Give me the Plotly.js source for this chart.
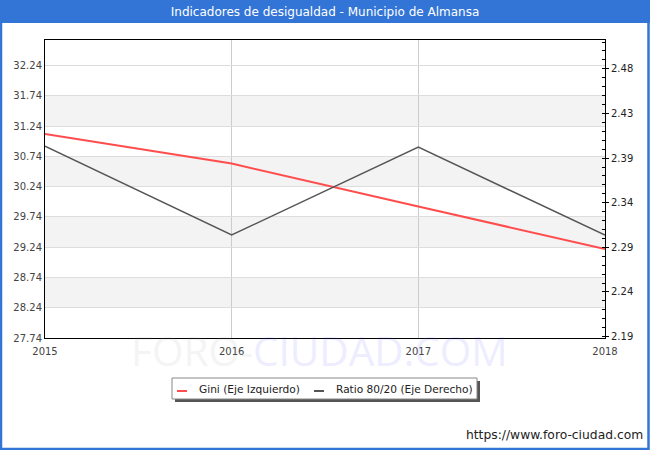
<!DOCTYPE html>
<html>
<head>
<meta charset="utf-8">
<script src="https://cdn.plot.ly/plotly-3.0.1.min.js"></script>
<style>html,body{margin:0;padding:0;background:#fff;}#chart{width:650px;height:450px;}</style>
</head>
<body>
<div id="chart"></div>
<script>
// ---- data ----
var years = [2015, 2016, 2017, 2018];
var giniValues = [31.11, 30.62, 29.91, 29.21];
var ratioValues = [2.398, 2.302, 2.397, 2.302];
var leftTickValues = [27.74, 28.24, 28.74, 29.24, 29.74, 30.24, 30.74, 31.24, 31.74, 32.24];
var rightTickLabels = ['2.19', '2.24', '2.29', '2.34', '2.39', '2.43', '2.48'];
var seriesNames = ['Gini (Eje Izquierdo)', 'Ratio 80/20 (Eje Derecho)'];
var seriesColors = ['#ff4d4d', '#555555'];
var chartTitle = 'Indicadores de desigualdad - Municipio de Almansa';
var footerText = 'https://www.foro-ciudad.com';

// ---- layout helpers (pixel -> paper) ----
var W = 650, H = 450, L = 45, R = 45, T = 40, B = 112;
var pw = W - L - R, ph = H - T - B;
function px(x) { return (x - L) / pw; }
function py(y) { return (H - B - y) / ph; }

var FONT = 'DejaVu Sans, Verdana, sans-serif';
var shapes = [];
var annotations = [];
// alternating bands between left ticks
for (var i = 1; i < leftTickValues.length - 1; i += 2) {
  shapes.push({type: 'rect', xref: 'paper', yref: 'y', x0: 0, x1: 1,
    y0: leftTickValues[i], y1: leftTickValues[i + 1],
    fillcolor: '#f3f3f3', line: {width: 0}, layer: 'below'});
}
// title bar
shapes.push({type: 'rect', xref: 'paper', yref: 'paper', x0: px(0), x1: px(W), y0: py(23), y1: py(0),
  fillcolor: '#3375d6', line: {width: 0}, layer: 'below'});
// frame border
shapes.push({type: 'rect', xref: 'paper', yref: 'paper', x0: px(1), x1: px(W - 1.5), y0: py(H - 1), y1: py(1),
  fillcolor: 'rgba(0,0,0,0)', line: {color: '#3375d6', width: 2.5}});

// custom legend (box, shadow, symbols, labels)
var lgX0 = 172, lgX1 = 477, lgY0 = 378, lgY1 = 399;
shapes.push({type: 'rect', xref: 'paper', yref: 'paper', x0: px(lgX0 + 3), x1: px(lgX1 + 3), y0: py(lgY1 + 3), y1: py(lgY0 + 3),
  fillcolor: '#555', line: {width: 0}});
shapes.push({type: 'rect', xref: 'paper', yref: 'paper', x0: px(lgX0), x1: px(lgX1), y0: py(lgY1), y1: py(lgY0),
  fillcolor: '#fff', line: {color: '#888', width: 1}});
var symX = [177, 314], txtX = [197, 334];
for (var s = 0; s < seriesNames.length; s++) {
  shapes.push({type: 'line', xref: 'paper', yref: 'paper', x0: px(symX[s]), x1: px(symX[s] + 10), y0: py(391), y1: py(391),
    line: {color: seriesColors[s], width: 2}});
  annotations.push({text: seriesNames[s], xref: 'paper', yref: 'paper', x: px(txtX[s]), y: py(388.5),
    xanchor: 'left', yanchor: 'middle', showarrow: false,
    font: {family: FONT, size: 10.6, color: '#222'}});
}

// right axis range mapped from tick labels
var rStart = 2.192, rStep = 0.0483;
var rMin = 2.1905, rMax = 2.513;
var rightTickVals = rightTickLabels.map(function (t, k) { return rStart + k * rStep; });

var data = [
  {x: years, y: giniValues, name: seriesNames[0], type: 'scatter', mode: 'lines',
   line: {color: seriesColors[0], width: 2}, yaxis: 'y'},
  {x: years, y: ratioValues, name: seriesNames[1], type: 'scatter', mode: 'lines',
   line: {color: seriesColors[1], width: 1.5}, yaxis: 'y2'}
];

annotations.push(
  {text: '<span style="color:#999999">FORO-</span><span style="color:#5555ff">CIUDAD.COM</span>',
   xref: 'paper', yref: 'paper', x: px(319), y: py(350), xanchor: 'center', yanchor: 'middle', opacity: 0.1,
   showarrow: false, font: {family: 'Open Sans, sans-serif', size: 40.5, color: '#999999'}},
  {text: footerText, xref: 'paper', yref: 'paper', x: px(645), y: py(435), xanchor: 'right', yanchor: 'middle',
   showarrow: false, font: {family: FONT, size: 12.3, color: '#222'}}
);

var layout = {
  width: W, height: H,
  margin: {l: L, r: R, t: T, b: B},
  paper_bgcolor: '#fff', plot_bgcolor: '#fff',
  font: {family: FONT, size: 10, color: '#444'},
  title: {text: chartTitle, font: {family: FONT, size: 12, color: '#fff'},
    x: 0.5, xanchor: 'center', y: 1 - 12 / H, yanchor: 'middle', xref: 'container', yref: 'container'},
  xaxis: {range: [2015, 2018], tickvals: years, ticktext: years.map(String),
    showgrid: true, gridcolor: '#cccccc', gridwidth: 1, zeroline: false,
    showline: true, linecolor: '#000', linewidth: 1, mirror: true, ticks: '',
    ticklabelstandoff: 4,
    tickfont: {family: FONT, size: 10, color: '#444'}},
  yaxis: {range: [27.74, 32.66], tickvals: leftTickValues, ticktext: leftTickValues.map(function (v) { return v.toFixed(2); }),
    showgrid: true, gridcolor: '#dddddd', gridwidth: 1, zeroline: false,
    showline: true, linecolor: '#000', linewidth: 1, mirror: true, ticks: '',
    tickfont: {family: FONT, size: 10, color: '#444'}},
  yaxis2: {overlaying: 'y', side: 'right', range: [rMin, rMax],
    tickvals: rightTickVals, ticktext: rightTickLabels,
    showgrid: false, zeroline: false, showline: true, linecolor: '#000', linewidth: 1,
    ticks: 'outside', ticklen: 3, tickcolor: '#000',
    minor: {dtick: rStep / 5, tick0: rStart, ticks: 'inside', ticklen: 3, tickcolor: '#000', showgrid: false},
    tickfont: {family: FONT, size: 10, color: '#222'}},
  showlegend: false,
  shapes: shapes,
  annotations: annotations
};

Plotly.newPlot('chart', data, layout, {displayModeBar: false, staticPlot: true});
</script>
</body>
</html>
